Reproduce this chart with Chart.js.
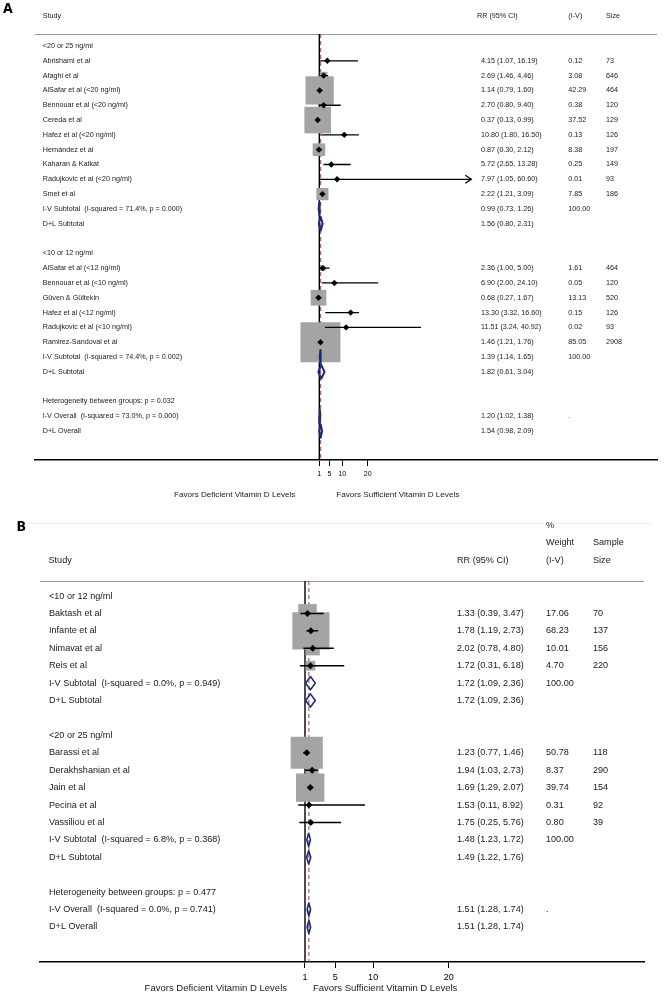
<!DOCTYPE html>
<html>
<head>
<meta charset="utf-8">
<script src="https://cdn.jsdelivr.net/npm/chart.js@4.4.1/dist/chart.umd.min.js"></script>
<style>
  body { margin: 0; background: #fff; }
  #wrap { position: relative; width: 664px; height: 1000px; }
  canvas { position: absolute; left: 0; }
  #chartA { top: 0; }
  #chartB { top: 505px; }
</style>
</head>
<body>
<div id="wrap">
  <canvas id="chartA" width="664" height="505"></canvas>
  <canvas id="chartB" width="664" height="495"></canvas>
</div>
<script>
var font = '"Liberation Sans", Arial, sans-serif';
var tagFont = '"Liberation Sans Narrow", "DejaVu Sans Condensed", "Liberation Sans", sans-serif';
var favLeft = 'Favors Deficient Vitamin D Levels';
var favRight = 'Favors Sufficient Vitamin D Levels';

// ---- panel A data ----
var studyA = ['<20 or 25 ng/ml', 'Abrishami et al', 'Afaghi et al', 'AlSafar et al (<20 ng/ml)',
  'Bennouar et al (<20 ng/ml)', 'Cereda et al', 'Hafez et al (<20 ng/ml)', 'Hernández et al',
  'Kaharan & Katkat', 'Radujkovic et al (<20 ng/ml)', 'Smet et al',
  'I-V Subtotal  (I-squared = 71.4%, p = 0.000)', 'D+L Subtotal', '',
  '<10 or 12 ng/ml', 'AlSafar et al (<12 ng/ml)', 'Bennouar et al (<10 ng/ml)', 'Güven & Gültekin',
  'Hafez et al (<12 ng/ml)', 'Radujkovic et al (<10 ng/ml)', 'Ramirez-Sandoval et al',
  'I-V Subtotal  (I-squared = 74.4%, p = 0.002)', 'D+L Subtotal', '',
  'Heterogeneity between groups: p = 0.032', 'I-V Overall  (I-squared = 73.0%, p = 0.000)', 'D+L Overall'];
var rrA = [null, 4.15, 2.69, 1.14, 2.70, 0.37, 10.80, 0.87, 5.72, 7.97, 2.22, 0.99, 1.56, null,
  null, 2.36, 6.90, 0.68, 13.30, 11.51, 1.46, 1.39, 1.82, null, null, 1.20, 1.54];
var loA = [null, 1.07, 1.46, 0.79, 0.80, 0.13, 1.80, 0.30, 2.65, 1.05, 1.21, 0.73, 0.80, null,
  null, 1.00, 2.00, 0.27, 3.32, 3.24, 1.21, 1.14, 0.61, null, null, 1.02, 0.98];
var hiA = [null, 16.19, 4.46, 1.60, 9.40, 0.99, 16.50, 2.12, 13.28, 60.60, 3.09, 1.26, 2.31, null,
  null, 5.00, 24.10, 1.67, 16.60, 40.92, 1.76, 1.65, 3.04, null, null, 1.38, 2.09];
var weightA = ['', '0.12', '3.08', '42.29', '0.38', '37.52', '0.13', '8.38', '0.25', '0.01', '7.85', '100.00', '', '',
  '', '1.61', '0.05', '13.13', '0.15', '0.02', '85.05', '100.00', '', '', '', '.', ''];
var sizeA = ['', '73', '646', '464', '120', '129', '126', '197', '149', '93', '186', '', '', '',
  '', '464', '120', '520', '126', '93', '2908', '', '', '', '', '', ''];
var headA = [['Study'], ['RR (95% CI)'], ['(I-V)'], ['Size']];
var ticksA = [1, 5, 10, 20];
var overallA = 1.54;

// ---- panel B data ----
var studyB = ['<10 or 12 ng/ml', 'Baktash et al', 'Infante et al', 'Nimavat et al', 'Reis et al',
  'I-V Subtotal  (I-squared = 0.0%, p = 0.949)', 'D+L Subtotal', '',
  '<20 or 25 ng/ml', 'Barassi et al', 'Derakhshanian et al', 'Jain et al', 'Pecina et al', 'Vassiliou et al',
  'I-V Subtotal  (I-squared = 6.8%, p = 0.368)', 'D+L Subtotal', '',
  'Heterogeneity between groups: p = 0.477', 'I-V Overall  (I-squared = 0.0%, p = 0.741)', 'D+L Overall'];
var rrB = [null, 1.33, 1.78, 2.02, 1.72, 1.72, 1.72, null, null, 1.23, 1.94, 1.69, 1.53, 1.75, 1.48, 1.49, null, null, 1.51, 1.51];
var loB = [null, 0.39, 1.19, 0.78, 0.31, 1.09, 1.09, null, null, 0.77, 1.03, 1.29, 0.11, 0.25, 1.23, 1.22, null, null, 1.28, 1.28];
var hiB = [null, 3.47, 2.73, 4.80, 6.18, 2.36, 2.36, null, null, 1.46, 2.73, 2.07, 8.92, 5.76, 1.72, 1.76, null, null, 1.74, 1.74];
var weightB = ['', '17.06', '68.23', '10.01', '4.70', '100.00', '', '', '', '50.78', '8.37', '39.74', '0.31', '0.80',
  '100.00', '', '', '', '.', ''];
var sizeB = ['', '70', '137', '156', '220', '', '', '', '', '118', '290', '154', '92', '39', '', '', '', '', '', ''];
var headB = [['Study'], ['RR (95% CI)'], ['%', 'Weight', '(I-V)'], ['Sample', 'Size']];
var ticksB = [1, 5, 10, 20];
var overallB = 1.51;

// layout (pixels, canvas coords)
var layA = { tag: 'A', tagX: 3, tagY: 9, H: 505, top: 34, bottom: 460, left: 35, right: 657,
  row0: 46, rowH: 14.81, one: 319.3, ppu: 2.55, axisH: 22, tickLen: 6, tickPad: 4, tickFs: 7,
  box: 4.34, dot: 3.2, ciW: 1.3, dmW: 2, dmH: 0.45, fs: 7.2, favFs: 8.1, favY: 495, favL: 24, favR: 17,
  textX: 42.7, rrX: 481, wX: 568.3, sX: 606, headX: [42.7, 477, 568.3, 606], headY: 16, headLH: 17.5,
  arrowFrom: 50, faint: null };
var layB = { tag: 'B', tagX: 16.5, tagY: 22, H: 495, top: 76, bottom: 457, left: 40, right: 644,
  row0: 91, rowH: 17.42, one: 305, ppu: 7.57, axisH: 22, tickLen: 6, tickPad: 4, tickFs: 9,
  box: 4.5, dot: 3.5, ciW: 1.5, dmW: 1.6, dmH: 0.38, fs: 9.1, favFs: 9.5, favY: 483, favL: 18, favR: 8,
  textX: 49, rrX: 457, wX: 546, sX: 593, headX: [48.5, 457, 546, 593], headY: 55, headLH: 17.5,
  arrowFrom: Infinity, faint: 18 };

function fmt(v) { return v.toFixed(2); }
function isPool(s) { return s.indexOf('I-V') === 0 || s.indexOf('D+L') === 0; }

function forest(id, p) {
  var L = p.lay;
  var yMin = -(L.row0 - L.top) / L.rowH;
  var yMax = (L.bottom - L.row0) / L.rowH;
  var xMin = 1 - (L.one - L.left) / L.ppu;
  var xMax = 1 + (L.right - L.one) / L.ppu;

  var dots = [], boxes = [], boxR = [], ci = [], dm = [];
  p.study.forEach(function (s, i) {
    if (p.rr[i] == null) return;
    if (isPool(s)) {
      dm.push({ x: p.lo[i], y: i }, { x: p.rr[i], y: i - L.dmH }, { x: p.hi[i], y: i },
        { x: p.rr[i], y: i + L.dmH }, { x: p.lo[i], y: i }, { x: NaN, y: NaN });
    } else {
      dots.push({ x: p.rr[i], y: i });
      boxes.push({ x: p.rr[i], y: i });
      boxR.push(L.box * Math.sqrt(parseFloat(p.wt[i])) / Math.SQRT2);
      ci.push({ x: p.lo[i], y: i }, { x: p.hi[i], y: i }, { x: NaN, y: NaN });
    }
  });

  var plugin = {
    id: 'forest' + L.tag,
    beforeDatasetsDraw: function (chart) {
      var ctx = chart.ctx, a = chart.chartArea;
      ctx.save();
      ctx.strokeStyle = '#9a9a9a';
      ctx.lineWidth = 1;
      ctx.beginPath();
      ctx.moveTo(a.left, a.top + 0.5);
      ctx.lineTo(a.right, a.top + 0.5);
      ctx.stroke();
      if (L.faint != null) {
        ctx.strokeStyle = '#f0f0f0';
        ctx.beginPath();
        ctx.moveTo(27, L.faint + 0.5);
        ctx.lineTo(652, L.faint + 0.5);
        ctx.stroke();
      }
      ctx.restore();
    },
    afterDatasetsDraw: function (chart) {
      var ctx = chart.ctx, xs = chart.scales.x, ys = chart.scales.y;
      ctx.save();
      ctx.strokeStyle = '#000';
      ctx.lineWidth = L.ciW;
      p.study.forEach(function (s, i) {
        if (p.hi[i] == null || isPool(s) || p.hi[i] < L.arrowFrom) return;
        var ax = xs.getPixelForValue(p.hi[i]), ay = ys.getPixelForValue(i);
        ctx.beginPath();
        ctx.moveTo(ax - 6, ay - 4);
        ctx.lineTo(ax, ay);
        ctx.lineTo(ax - 6, ay + 4);
        ctx.stroke();
      });
      ctx.restore();
    },
    afterDraw: function (chart) {
      var ctx = chart.ctx, xs = chart.scales.x, ys = chart.scales.y;
      ctx.save();
      ctx.textBaseline = 'middle';
      ctx.fillStyle = '#000';
      ctx.font = 'bold 14px ' + tagFont;
      ctx.fillText(L.tag, L.tagX, L.tagY);

      ctx.fillStyle = '#1a1a1a';
      ctx.font = L.fs + 'px ' + font;
      p.head.forEach(function (lines, c) {
        lines.forEach(function (t, k) {
          ctx.fillText(t, L.headX[c], L.headY - (lines.length - 1 - k) * L.headLH);
        });
      });
      p.study.forEach(function (s, i) {
        var py = ys.getPixelForValue(i);
        ctx.fillText(s, L.textX, py);
        if (p.rr[i] != null) {
          ctx.fillText(fmt(p.rr[i]) + ' (' + fmt(p.lo[i]) + ', ' + fmt(p.hi[i]) + ')', L.rrX, py);
        }
        if (p.wt[i]) ctx.fillText(p.wt[i], L.wX, py);
        if (p.size[i]) ctx.fillText(p.size[i], L.sX, py);
      });

      var one = xs.getPixelForValue(1);
      ctx.font = L.favFs + 'px ' + font;
      ctx.textAlign = 'right';
      ctx.fillText(favLeft, one - L.favL, L.favY);
      ctx.textAlign = 'left';
      ctx.fillText(favRight, one + L.favR, L.favY);
      ctx.restore();
    }
  };

  return new Chart(document.getElementById(id), {
    type: 'scatter',
    data: {
      datasets: [
        { data: dots, order: 0, pointStyle: 'rectRot', pointRadius: L.dot,
          backgroundColor: '#000', borderWidth: 0 },
        { data: dm, order: 1, showLine: true, spanGaps: false, pointRadius: 0,
          borderColor: '#1c2a78', borderWidth: L.dmW, borderJoinStyle: 'round', borderCapStyle: 'round', fill: false },
        { data: ci, order: 2, showLine: true, spanGaps: false, pointRadius: 0,
          borderColor: '#000', borderWidth: L.ciW, fill: false },
        { data: boxes, order: 3, pointStyle: 'rect', pointRadius: boxR,
          backgroundColor: '#a4a4a4', borderWidth: 0 },
        { data: [{ x: p.overall, y: yMin }, { x: p.overall, y: yMax }], order: 4, showLine: true,
          pointRadius: 0, borderColor: '#b0384a', borderWidth: 1, borderDash: [4, 3] },
        { data: [{ x: 1, y: yMin }, { x: 1, y: yMax }], order: 5, showLine: true,
          pointRadius: 0, borderColor: '#000', borderWidth: 1.4 }
      ]
    },
    options: {
      responsive: false,
      devicePixelRatio: 1,
      animation: false,
      events: [],
      layout: { autoPadding: false,
        padding: { left: L.left, right: 664 - L.right, top: L.top, bottom: L.H - L.bottom - L.axisH } },
      plugins: { legend: { display: false }, tooltip: { enabled: false } },
      scales: {
        x: {
          type: 'linear', position: 'bottom', min: xMin, max: xMax, bounds: 'data',
          afterBuildTicks: function (s) { s.ticks = p.ticks.map(function (v) { return { value: v }; }); },
          afterFit: function (s) { s.height = L.axisH; },
          ticks: { color: '#000', padding: L.tickPad, maxRotation: 0, autoSkip: false,
            font: { family: font, size: L.tickFs } },
          grid: { display: true, drawOnChartArea: false, drawTicks: true, tickLength: L.tickLen,
            color: '#000', lineWidth: 1 },
          border: { display: true, color: '#000', width: 1.5 }
        },
        y: { type: 'linear', reverse: true, min: yMin, max: yMax, display: false }
      }
    },
    plugins: [plugin]
  });
}

forest('chartA', { study: studyA, rr: rrA, lo: loA, hi: hiA, wt: weightA, size: sizeA,
  head: headA, ticks: ticksA, overall: overallA, lay: layA });
forest('chartB', { study: studyB, rr: rrB, lo: loB, hi: hiB, wt: weightB, size: sizeB,
  head: headB, ticks: ticksB, overall: overallB, lay: layB });
</script>
</body>
</html>
